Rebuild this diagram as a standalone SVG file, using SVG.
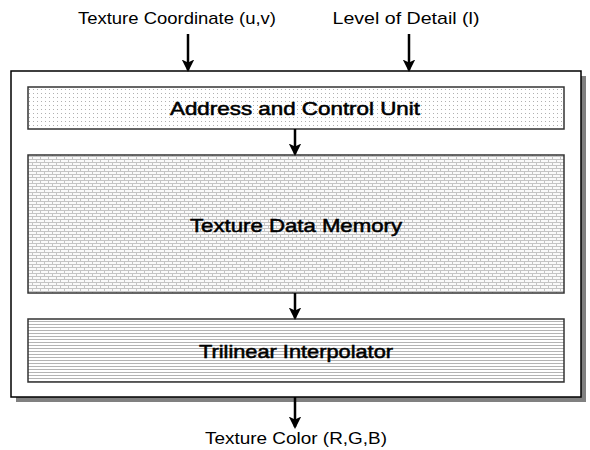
<svg xmlns="http://www.w3.org/2000/svg" width="590" height="450" viewBox="0 0 590 450">
<style>
.lbl{font-family:"Liberation Sans",Arial,sans-serif;font-size:17px;fill:#000;text-anchor:middle}
.blk{font-family:"Liberation Sans",Arial,sans-serif;font-size:19px;fill:#000;text-anchor:middle;stroke:#000;stroke-width:0.55}
.box{stroke:#333;stroke-width:1.5}
.conn{stroke:#000;stroke-width:2.5;fill:none}
</style>
<defs>
<pattern id="dots" width="4" height="4" patternUnits="userSpaceOnUse">
<rect width="4" height="4" fill="#fff"/>
<rect x="1" y="1" width="1" height="1" fill="#b0b0b0"/>
</pattern>
<pattern id="brick" width="8" height="6" patternUnits="userSpaceOnUse">
<rect width="8" height="6" fill="#fafafa"/>
<rect x="0" y="0" width="8" height="1" fill="#c4c4c4"/>
<rect x="0" y="3" width="8" height="1" fill="#c4c4c4"/>
<rect x="0" y="0" width="1" height="3" fill="#c4c4c4"/>
<rect x="4" y="3" width="1" height="3" fill="#c4c4c4"/>
</pattern>
<pattern id="hlines" width="4" height="3" patternUnits="userSpaceOnUse">
<rect width="4" height="3" fill="#fff"/>
<rect x="0" y="0" width="4" height="1" fill="#b4b4b4"/>
</pattern>
<marker id="ah" markerWidth="5" markerHeight="5" refX="4.2" refY="2.5" orient="auto" markerUnits="strokeWidth">
<path d="M0,0 L5,2.5 L0,5 L1.2,2.5 Z" fill="#000"/>
</marker>
</defs>
<g id="outer">
<rect x="16" y="76" width="570" height="326" fill="#808080"/>
<rect x="11" y="71" width="570" height="326" fill="#fff" stroke="#000" stroke-width="1.5"/>
</g>
<g id="address">
<rect class="box" x="28" y="87" width="536" height="42" fill="url(#dots)"/>
<text class="blk" x="295" y="115" textLength="250" lengthAdjust="spacingAndGlyphs">Address and Control Unit</text>
</g>
<g id="memory">
<rect class="box" x="28" y="155" width="536" height="138" fill="url(#brick)"/>
<text class="blk" x="296" y="232" textLength="212" lengthAdjust="spacingAndGlyphs">Texture Data Memory</text>
</g>
<g id="trilinear">
<rect class="box" x="28" y="319" width="536" height="63" fill="url(#hlines)"/>
<text class="blk" x="296" y="358" textLength="194" lengthAdjust="spacingAndGlyphs">Trilinear Interpolator</text>
</g>
<g id="labels">
<text class="lbl" x="177" y="24" textLength="198" lengthAdjust="spacingAndGlyphs">Texture Coordinate (u,v)</text>
<text class="lbl" x="406" y="24" textLength="147" lengthAdjust="spacingAndGlyphs">Level of Detail (l)</text>
<text class="lbl" x="296" y="444" textLength="182" lengthAdjust="spacingAndGlyphs">Texture Color (R,G,B)</text>
</g>
<g id="connectors">
<line class="conn" x1="188" y1="34" x2="188" y2="70" marker-end="url(#ah)"/>
<line class="conn" x1="409" y1="34" x2="409" y2="70" marker-end="url(#ah)"/>
<line class="conn" x1="295" y1="129" x2="295" y2="154" marker-end="url(#ah)"/>
<line class="conn" x1="295" y1="293" x2="295" y2="318" marker-end="url(#ah)"/>
<line class="conn" x1="295" y1="397" x2="295" y2="427" marker-end="url(#ah)"/>
</g>
</svg>
